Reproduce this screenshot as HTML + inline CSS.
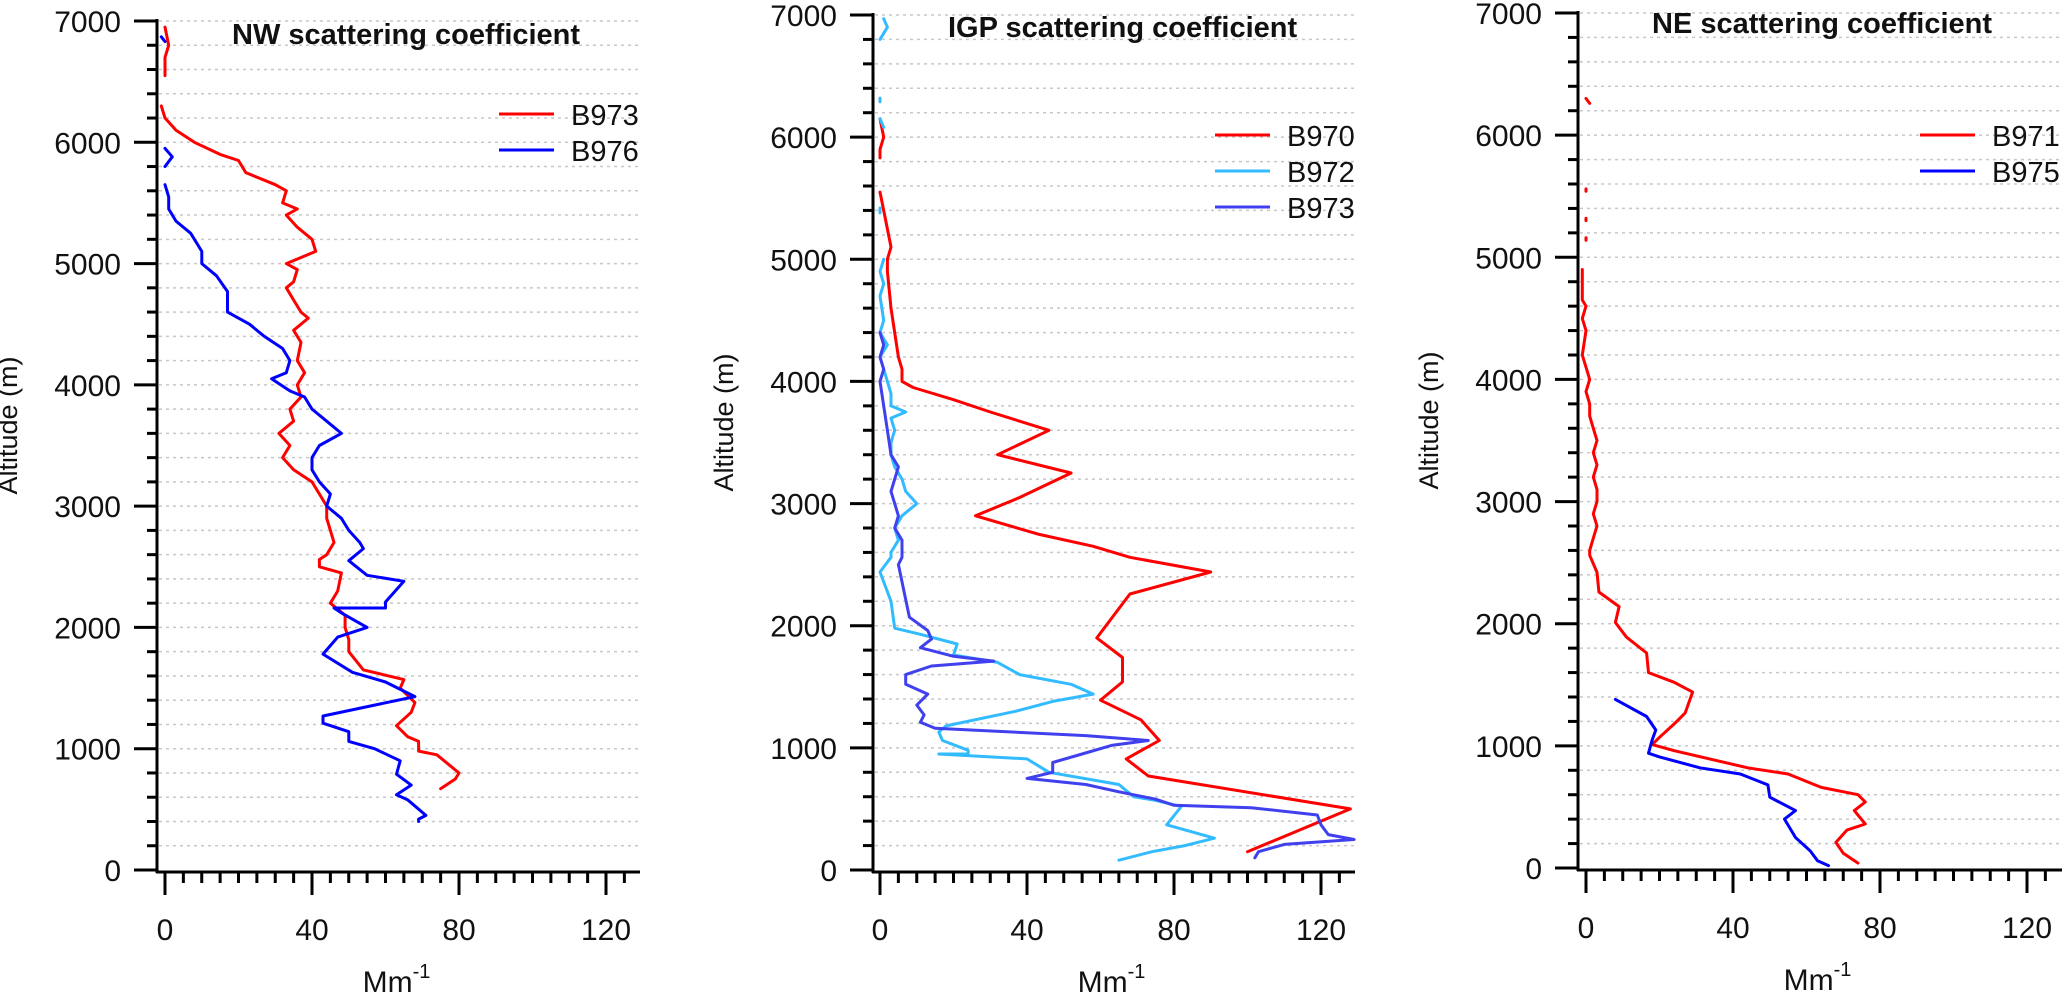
<!DOCTYPE html>
<html><head><meta charset="utf-8">
<style>
html,body{margin:0;padding:0;background:#fff;}
svg{display:block;font-family:"Liberation Sans",Arial,sans-serif;}
</style></head>
<body>
<svg id="chart" width="2067" height="998" viewBox="0 0 2067 998" xmlns="http://www.w3.org/2000/svg"></svg>
<script>
// ---------- data (altitude m, value Mm^-1); null breaks a line ----------
const xTicks = [0, 40, 80, 120];
const yTicks = [0, 1000, 2000, 3000, 4000, 5000, 6000, 7000];

const nwB973Alt = [6950,6800,6700,6550,null,6300,6200,6100,6000,5900,5850,5750,5650,5600,5500,5450,5400,5300,5200,5100,5000,4950,4850,4800,4700,4600,4550,4450,4350,4200,4100,4000,3900,3800,3700,3600,3500,3400,3300,3200,3100,3000,2900,2800,2700,2600,2560,2500,2450,2300,2200,2100,2000,1900,1800,1650,1570,1500,1380,1300,1190,1100,1060,980,950,800,750,670];
const nwB973Val = [0,1,0,0,null,-1,0,3,8,15,20,22,30,33,32,36,33,36,40,41,33,36,35,33,35,37,39,35,37,36,38,36,37,34,35,31,34,32,35,40,42,44,44,45,46,44,42,42,48,47,45,49,49,50,50,54,65,64,68,67,63,66,69,69,74,80,79,75];
const nwB976Alt = [6870,6830,null,5950,5880,5800,null,5650,5550,5450,5350,5250,5100,5000,4900,4770,4600,4500,4400,4300,4200,4100,4050,3950,3900,3800,3700,3600,3500,3400,3300,3200,3100,3000,2900,2800,2700,2650,2550,2430,2380,2210,2160,2160,2120,2000,1920,1780,1630,1550,1430,1270,1210,1140,1060,1000,900,790,700,620,580,450,420,400];
const nwB976Val = [-1,0,null,0,2,0,null,0,1,1,3,7,10,10,14,17,17,23,27,32,34,33,29,34,38,40,44,48,42,40,40,42,45,44,48,50,53,54,50,55,65,60,60,46,48,55,47,43,51,60,68,43,43,50,50,57,64,63,67,63,66,71,69,69];

const igpB970Alt = [6150,6000,5900,5830,null,5550,5400,5100,5000,4900,4600,4400,4200,4100,4000,3950,3850,3750,3600,3400,3250,3050,2900,2750,2650,2560,2440,2260,1900,1740,1540,1390,1230,1060,910,770,500,150];
const igpB970Val = [0,1,0,0,null,0,1,3,2,2,3,4,5,6,6,9,20,30,46,32,52,38,26,43,58,68,90,68,59,66,66,60,71,76,67,73,128,100];
const igpB972Alt = [6970,6900,6850,6800,null,6320,6290,null,6150,6080,null,5420,5380,null,5000,4900,4800,4700,4500,4400,4300,4200,4000,3900,3800,3750,3700,3600,3500,3400,3300,3200,3100,3000,2900,2800,2700,2600,2560,2440,2200,1980,1930,1850,1760,1700,1600,1520,1440,1380,1300,1180,1130,1060,980,950,950,910,800,700,600,570,520,370,260,200,150,80];
const igpB972Val = [1,2,1,0,null,0,0,null,0,1,null,0,0,null,1,0,1,0,1,0,2,0,2,3,3,7,3,4,3,3,4,6,7,10,6,4,5,3,3,0,3,4,11,21,20,32,38,52,58,47,37,18,16,17,24,24,16,40,46,65,69,75,82,78,91,83,74,65];
const igpB973Alt = [4400,4300,4200,4100,4000,3800,3600,3400,3300,3100,3000,2900,2800,2700,2600,2560,2500,2070,1960,1890,1820,1750,1710,1670,1600,1520,1440,1350,1270,1210,1160,1100,1060,1020,950,880,800,750,700,640,580,530,510,450,370,290,250,210,150,100];
const igpB973Val = [0,1,0,1,0,1,2,3,5,3,4,5,4,6,6,6,5,8,13,14,11,20,31,14,7,7,13,10,12,11,15,56,73,63,55,47,47,40,56,65,75,80,101,119,120,122,129,110,103,102];

const neB971Alt = [6300,6260,null,5560,5540,null,5320,5300,null,5160,5140,null,4900,4650,4600,4500,4400,4200,4100,4000,3900,3800,3700,3600,3500,3400,3300,3200,3100,3000,2900,2800,2700,2600,2560,2420,2260,2140,2010,1890,1760,1600,1520,1440,1270,1180,1070,1010,960,820,770,660,600,540,470,360,310,210,120,40];
const neB971Val = [0,1,null,0,0,null,0,0,null,0,0,null,-1,-1,0,-1,0,-1,0,1,0,1,1,2,3,2,3,2,3,3,2,3,2,1,1,3,3.5,9,8,11,16.5,17,24,29,27,24,20,18,24,44,55,64,74,76,73,76,71,68,70,74];
const neB975Alt = [1380,1240,1130,1050,940,910,820,770,680,580,470,400,250,140,60,20];
const neB975Val = [8,16.5,19,18,17,20,31,42,49.5,50,57,54,57,61,63,66];

// ---------- drawing ----------
const NS = "http://www.w3.org/2000/svg";
const svg = document.getElementById('chart');
function mk(tag, attrs, parent){ const e=document.createElementNS(NS,tag); for(const k in attrs) e.setAttribute(k,attrs[k]); (parent||svg).appendChild(e); return e; }

const panels = [
  {key:'nw', title:'NW scattering coefficient', axisX:157, x0:165, top:21, bottom:870, right:640, titleX:232, titleY:44, legX:499, legY:114,
   series:[{name:'B973',alt:nwB973Alt,val:nwB973Val,color:'#ff0000'},{name:'B976',alt:nwB976Alt,val:nwB976Val,color:'#0000ff'}]},
  {key:'igp', title:'IGP scattering coefficient', axisX:873, x0:880, top:15, bottom:870, right:1355, titleX:948, titleY:37, legX:1215, legY:135,
   series:[{name:'B970',alt:igpB970Alt,val:igpB970Val,color:'#ff0000'},{name:'B972',alt:igpB972Alt,val:igpB972Val,color:'#33bbff'},{name:'B973',alt:igpB973Alt,val:igpB973Val,color:'#4040ee'}]},
  {key:'ne', title:'NE scattering coefficient', axisX:1578, x0:1586, top:13, bottom:868, right:2062, titleX:1652, titleY:33, legX:1920, legY:135,
   series:[{name:'B971',alt:neB971Alt,val:neB971Val,color:'#ff0000'},{name:'B975',alt:neB975Alt,val:neB975Val,color:'#0000ff'}]}
];
const PXU = 3.675;

panels.forEach(p=>{
  const g = mk('g',{});
  
  
  const xs = v => p.x0 + v*PXU;
  const ys = a => p.bottom - (a/7000)*(p.bottom-p.top);
  // gridlines
  for(let a=200;a<=7000;a+=200){
    const l = mk('line',{x1:p.axisX+2,x2:p.right,y1:ys(a),y2:ys(a),stroke:'#c8c8c8','stroke-width':1.5,'stroke-dasharray':'3 4'},g);
    
    
  }
  // y axis
  const ya = mk('line',{x1:p.axisX,x2:p.axisX,y1:p.top-2,y2:p.bottom+3,stroke:'#000','stroke-width':3},g);
  
  
  for(let a=0;a<=7000;a+=200){
    const major = a%1000===0;
    mk('line',{x1:p.axisX-(major?23:10),x2:p.axisX,y1:ys(a),y2:ys(a),stroke:'#000','stroke-width':3},g);
  }
  yTicks.forEach(t=>{
    const tx = mk('text',{x:p.axisX-36,y:ys(t)+11,'text-anchor':'end','font-size':30,fill:'#111'},g);
    tx.textContent = t;
    
    
  });
  // x axis
  const xa = mk('line',{x1:p.axisX-1,x2:p.right,y1:p.bottom+2,y2:p.bottom+2,stroke:'#000','stroke-width':3},g);
  
  
  for(let v=0; xs(v)<=p.right; v+=5){
    const major = v%40===0;
    mk('line',{x1:xs(v),x2:xs(v),y1:p.bottom+2,y2:p.bottom+(major?25:13),stroke:'#000','stroke-width':3},g);
  }
  xTicks.forEach(t=>{
    const tx = mk('text',{x:xs(t),y:p.bottom+70,'text-anchor':'middle','font-size':30,fill:'#111'},g);
    tx.textContent = t;
    
    
  });
  const xt = mk('text',{x:xs(63),y:p.bottom+122,'text-anchor':'middle','font-size':30,fill:'#111'},g);
  xt.innerHTML = 'Mm<tspan dy="-14" font-size="20">-1</tspan>';
  
  
  const yt = mk('text',{x:0,y:0,'text-anchor':'middle','font-size':27,fill:'#111',transform:`translate(${p.axisX-140},${(p.top+p.bottom)/2-20}) rotate(-90)`},g);
  yt.textContent = 'Altitude (m)';
  
  
  // title
  const tt = mk('text',{x:p.titleX,y:p.titleY,'font-size':29,'font-weight':'bold',fill:'#111'},g);
  tt.textContent = p.title;
  
  
  // series
  p.series.forEach((s,i)=>{
    let d='', pen=false;
    for(let k=0;k<s.alt.length;k++){
      if(s.alt[k]===null||s.val[k]===null){pen=false;continue;}
      d += (pen?'L':'M')+xs(s.val[k]).toFixed(1)+' '+ys(s.alt[k]).toFixed(1)+' ';
      pen=true;
    }
    const path = mk('path',{d:d,fill:'none',stroke:s.color,'stroke-width':3,'stroke-linejoin':'round','stroke-linecap':'round'},g);
    
    
    const ly = p.legY + i*36;
    const le = mk('g',{},g);
    
    
    mk('line',{x1:p.legX,x2:p.legX+55,y1:ly,y2:ly,stroke:s.color,'stroke-width':3},le);
    const lt = mk('text',{x:p.legX+72,y:ly+11,'font-size':29,fill:'#111'},le);
    lt.textContent = s.name;
  });
});
</script>
</body></html>
